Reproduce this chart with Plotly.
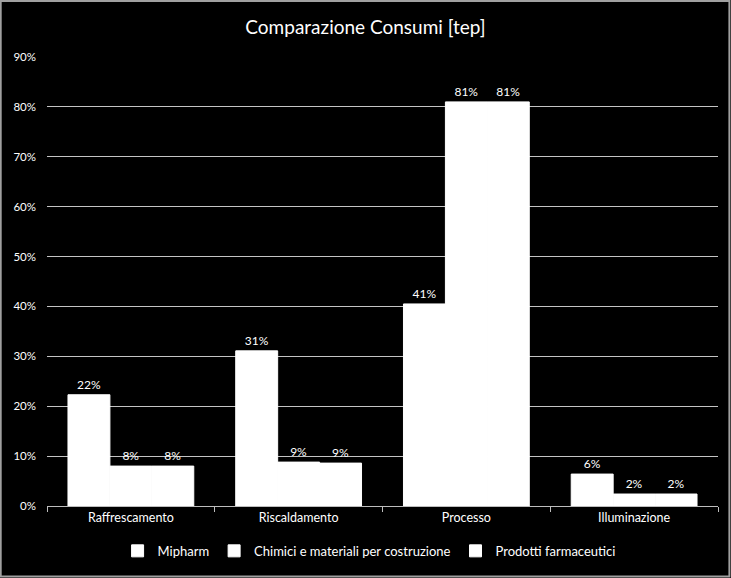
import plotly.graph_objects as go

# Data
categories = ["Raffrescamento", "Riscaldamento", "Processo", "Illuminazione"]
mipharm = [0.223, 0.311, 0.405, 0.064]
chimici = [0.080, 0.088, 0.810, 0.024]
farmaceutici = [0.080, 0.086, 0.810, 0.024]
series_names = ["Mipharm", "Chimici e materiali per costruzione", "Prodotti farmaceutici"]

font_family = "Lato, 'Open Sans', sans-serif"

traces = []
for name, vals in zip(series_names, [mipharm, chimici, farmaceutici]):
    traces.append(go.Bar(
        x=categories,
        y=vals,
        name=name,
        marker=dict(color="white", line=dict(width=1, color="white")),
        texttemplate="%{y:.0%}",
        textposition="outside",
        textfont=dict(color="white", size=12, family=font_family),
        cliponaxis=False,
    ))

layout = go.Layout(
    width=731,
    height=578,
    paper_bgcolor="black",
    plot_bgcolor="black",
    font=dict(family=font_family, color="white", size=12),
    title=dict(text="Comparazione Consumi [tep]", x=0.5, xanchor="center",
               y=0.952, yanchor="middle", font=dict(size=19, color="white")),
    margin=dict(l=47, r=13, t=57, b=72),
    barmode="group",
    bargap=0.25,
    bargroupgap=0,
    xaxis=dict(
        showline=True, linecolor="#bdbdbd", linewidth=1,
        ticks="outside", tickson="boundaries", ticklen=5, tickcolor="#bdbdbd",
        showgrid=False, tickfont=dict(size=12.5, color="white"),
    ),
    yaxis=dict(
        range=[0, 0.9], dtick=0.1, tickformat=".0%",
        showgrid=True, gridcolor="#c4c4c4", gridwidth=1,
        zeroline=False, showline=False,
        tickfont=dict(size=11.5, color="white"), ticks="", ticklabelstandoff=10,
    ),
    legend=dict(
        orientation="h", x=0.48, xanchor="center", y=-0.1, yanchor="middle",
        font=dict(size=13, color="white"), bgcolor="rgba(0,0,0,0)",
        traceorder="normal", itemwidth=30,
    ),
    shapes=[dict(type="rect", xref="paper", yref="paper",
                 x0=-0.069, x1=1.017, y0=-0.157, y1=1.125,
                 line=dict(color="#a0a0a0", width=2))],
)

fig = go.Figure(data=traces, layout=layout)
fig.write_html("out.html", config={"displayModeBar": False},
               post_script="document.body.style.margin='0';")
